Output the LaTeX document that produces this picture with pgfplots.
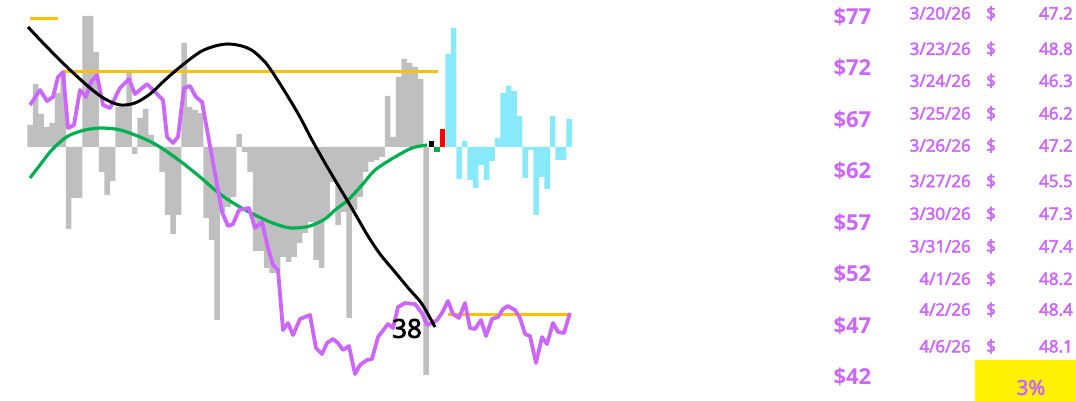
\documentclass[border=0pt]{standalone}
\usepackage{pgfplots}
\pgfplotsset{compat=1.18}
\usepackage{fontspec}
\setmainfont{Open Sans}
\newfontfamily\semib{Open Sans}[FakeBold=3]
\definecolor{barGrey}{RGB}{191,191,191}
\definecolor{barCyan}{RGB}{135,233,249}
\definecolor{pricePurple}{RGB}{204,102,255}
\definecolor{txtPurple}{RGB}{204,102,255}
\definecolor{maGreen}{RGB}{0,176,80}
\definecolor{lvlOrange}{RGB}{255,192,0}
\begin{document}
\begin{tikzpicture}
\useasboundingbox (0,0) rectangle (1076pt,401pt);
% ---- bar (oscillator) axis ----
\begin{axis}[at={(0,0)}, anchor=south west, scale only axis,
  width=830pt, height=401pt,
  xmin=-4.9636, xmax=145.945, ymin=-254, ymax=147,
  hide axis, clip=false]
\addplot[ybar interval, fill=barGrey, draw=none] coordinates {
(0,22)(1,63)(2,33)(3,20)(4,24)(5,54)(6,74)(7,-82)(8,-51)(9,-51)(10,131)(11,131)(12,95)(13,-25)(14,-48)(15,-34)(16,40)(17,40)(18,77)(19,-7)(20,29)(21,38)(22,12)(23,2)(24,-25)(25,-68)(26,-87)(27,-68)(28,104)(29,40)(30,37)(31,34)(32,-71)(33,-93)(34,-173)(35,-65)(36,-60)(37,-50)(38,13)(39,-5)(40,-25)(41,-104)(42,-104)(43,-121)(44,-126)(45,-126)(46,-110)(47,-115)(48,-110)(49,-96)(50,-86)(51,-75)(52,-113)(53,-121)(54,-71)(55,-35)(56,-78)(57,-65)(58,-171)(59,-63)(60,-50)(61,-25)(62,-15)(63,-13)(64,-10)(65,51)(66,10)(67,70)(68,88)(69,84)(70,80)(71,68)(72,-228)(73,0)};
\addplot[ybar interval, fill=black, draw=none] coordinates {(73,6)(74,0)};
\addplot[ybar interval, fill=maGreen, draw=none] coordinates {(74,-5)(75,0)};
\addplot[ybar interval, fill=red, draw=none] coordinates {(75,18)(76,0)};
\addplot[ybar interval, fill=barCyan, draw=none] coordinates {
(76,93)(77,119)(78,-32)(79,6)(80,-33)(81,-41)(82,-18)(83,-33)(84,-14)(85,9)(86,54)(87,61)(88,56)(89,31)(90,-31)(91,-3)(92,-68)(93,-30)(94,-42)(95,31)(96,-13)(97,-13)(98,28)(99,0)};
\end{axis}
% ---- price axis ----
\begin{axis}[at={(0,0)}, anchor=south west, scale only axis,
  width=830pt, height=401pt,
  xmin=0, xmax=830, ymin=39.67, ymax=78.60,
  axis line style={draw=none}, xtick=\empty,
  ytick={42,47,52,57,62,67,72,77},
  yticklabels={\$42,\$47,\$52,\$57,\$62,\$67,\$72,\$77},
  yticklabel pos=right, major tick length=0pt,
  yticklabel style={font=\fontsize{22}{22}\selectfont\bfseries, text=txtPurple},
  clip=false]
\addplot[lvlOrange, line width=3pt] coordinates {(30,76.76)(58,76.76)};
\addplot[lvlOrange, line width=3pt] coordinates {(63,71.61)(438,71.61)};
\addplot[lvlOrange, line width=3pt] coordinates {(448,48.02)(570,48.02)};
\addplot[maGreen, line width=3.2pt, smooth] coordinates {
(30,61.32)(40,62.58)(50,63.84)(60,64.81)(70,65.49)(85,65.98)(100,66.17)(115,66.08)(127,65.78)(145,65.10)(160,64.33)(180,62.97)(200,61.42)(215,60.15)(227,59.28)(240,58.50)(255,57.73)(270,57.05)(285,56.56)(295,56.46)(310,56.66)(325,57.34)(335,58.21)(348,59.18)(362,60.64)(375,62.09)(395,63.36)(412,64.23)(427,64.52)};
\addplot[pricePurple, line width=3.8pt, line join=round] coordinates {
(30,68.41)(40,69.86)(47,68.79)(53,69.18)(58,71.12)(63,71.61)(68,66.17)(74,66.46)(80,69.86)(86,69.18)(91,70.64)(97,71.32)(103,68.41)(110,68.11)(120,70.06)(129,70.93)(135,69.47)(147,70.44)(158,69.38)(163,68.89)(167,65.30)(173,64.72)(178,65.30)(184,70.06)(190,70.25)(196,69.18)(202,68.70)(222,58.02)(228,56.66)(233,56.85)(239,58.21)(249,58.41)(255,56.46)(262,57.05)(268,54.52)(273,52.87)(278,52.39)(283,46.56)(288,47.24)(293,46.07)(300,47.63)(310,48.02)(316,44.81)(322,44.23)(327,45.30)(333,45.69)(338,45.30)(343,44.62)(349,45.01)(355,42.29)(360,43.16)(367,43.65)(372,43.74)(378,45.88)(388,47.14)(393,46.75)(398,48.79)(405,49.18)(415,49.08)(422,48.21)(427,47.05)(432,47.24)(437,47.53)(442,48.21)(448,49.38)(453,48.11)(459,47.73)(465,49.18)(470,46.75)(475,46.66)(481,47.53)(486,45.98)(492,47.63)(498,47.82)(503,48.60)(508,48.89)(515,48.50)(520,47.73)(525,46.17)(530,45.98)(536,43.36)(542,45.88)(547,45.20)(553,47.24)(558,46.37)(564,46.27)(570,48.21)};
\addplot[black, line width=3pt, smooth] coordinates {
(28,75.98)(45,74.23)(67,72.09)(90,70.06)(105,68.99)(120,68.41)(135,68.60)(150,69.47)(165,70.83)(180,72.09)(200,73.55)(215,74.13)(228,74.33)(242,74.13)(253,73.65)(265,72.58)(273,71.51)(282,70.15)(290,68.89)(300,67.24)(312,65.01)(325,62.77)(335,61.12)(347,59.18)(358,57.35)(368,55.68)(380,53.94)(395,52.19)(410,50.44)(422,49.09)(435,46.85)};
\node[font=\fontsize{26}{26}\selectfont\semib, text=black, inner sep=0pt] at (axis cs:407,46.71) {38};
\end{axis}
% ---- table ----
\begin{scope}[every node/.style={inner sep=0pt, text=txtPurple, font=\fontsize{17}{17}\selectfont\semib}]
\node[anchor=base east] at (971pt,381.7pt) {3/20/26};
\node[anchor=base east] at (971pt,346.1pt) {3/23/26};
\node[anchor=base east] at (971pt,314.1pt) {3/24/26};
\node[anchor=base east] at (971pt,281.6pt) {3/25/26};
\node[anchor=base east] at (971pt,249.4pt) {3/26/26};
\node[anchor=base east] at (971pt,213.9pt) {3/27/26};
\node[anchor=base east] at (971pt,181.2pt) {3/30/26};
\node[anchor=base east] at (971pt,148.6pt) {3/31/26};
\node[anchor=base east] at (971pt,116.1pt) {4/1/26};
\node[anchor=base east] at (971pt,85.4pt) {4/2/26};
\node[anchor=base east] at (971pt,48.6pt) {4/6/26};
\node[anchor=base] at (991pt,381.7pt) {\$};
\node[anchor=base] at (991pt,346.1pt) {\$};
\node[anchor=base] at (991pt,314.1pt) {\$};
\node[anchor=base] at (991pt,281.6pt) {\$};
\node[anchor=base] at (991pt,249.4pt) {\$};
\node[anchor=base] at (991pt,213.9pt) {\$};
\node[anchor=base] at (991pt,181.2pt) {\$};
\node[anchor=base] at (991pt,148.6pt) {\$};
\node[anchor=base] at (991pt,116.1pt) {\$};
\node[anchor=base] at (991pt,85.4pt) {\$};
\node[anchor=base] at (991pt,48.6pt) {\$};
\node[anchor=base east] at (1073pt,381.7pt) {47.2};
\node[anchor=base east] at (1073pt,346.1pt) {48.8};
\node[anchor=base east] at (1073pt,314.1pt) {46.3};
\node[anchor=base east] at (1073pt,281.6pt) {46.2};
\node[anchor=base east] at (1073pt,249.4pt) {47.2};
\node[anchor=base east] at (1073pt,213.9pt) {45.5};
\node[anchor=base east] at (1073pt,181.2pt) {47.3};
\node[anchor=base east] at (1073pt,148.6pt) {47.4};
\node[anchor=base east] at (1073pt,116.1pt) {48.2};
\node[anchor=base east] at (1073pt,85.4pt) {48.4};
\node[anchor=base east] at (1073pt,48.6pt) {48.1};
\end{scope}
\fill[yellow] (975pt,0pt) rectangle (1076pt,41pt);
\node[inner sep=0pt, text=txtPurple, font=\fontsize{20.5}{20.5}\selectfont\semib] at (1031pt,13.5pt) {3\%};
\end{tikzpicture}
\end{document}
